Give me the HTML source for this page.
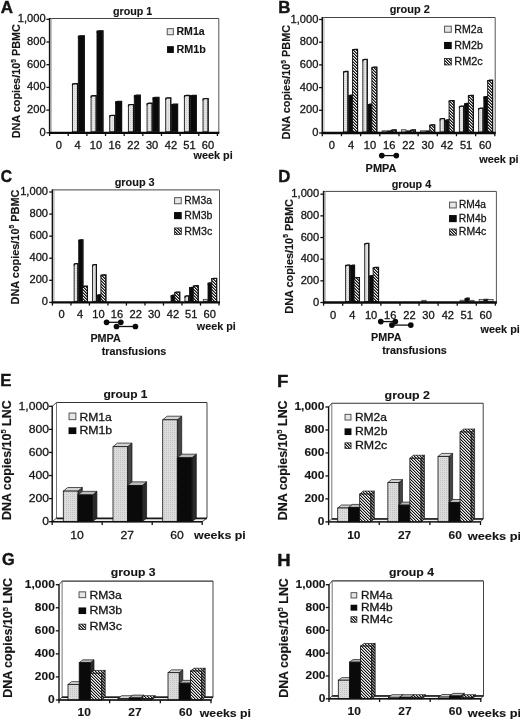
<!DOCTYPE html>
<html><head><meta charset="utf-8"><style>
html,body{margin:0;padding:0;background:#fff;}
body{width:520px;height:721px;overflow:hidden;font-family:"Liberation Sans", sans-serif;}
svg{display:block;filter:blur(0.5px);}
</style></head><body>
<svg width="520" height="721" viewBox="0 0 520 721" font-family='"Liberation Sans", sans-serif'>
<defs>
<pattern id="dots" width="2" height="2" patternUnits="userSpaceOnUse"><rect width="2" height="2" fill="#e6e6e6"/><rect width="1" height="1" fill="#cdcdcd"/></pattern>
<pattern id="dots3" width="2" height="2" patternUnits="userSpaceOnUse"><rect width="2" height="2" fill="#dcdcdc"/><rect width="1" height="1" fill="#c2c2c2"/></pattern>
<pattern id="hatch" width="3" height="3" patternUnits="userSpaceOnUse"><rect width="3" height="3" fill="#f4f4f4"/><rect x="0" y="0" width="1" height="1" fill="#111"/><rect x="1" y="0" width="1" height="1" fill="#777"/><rect x="1" y="1" width="1" height="1" fill="#111"/><rect x="2" y="1" width="1" height="1" fill="#777"/><rect x="0" y="2" width="1" height="1" fill="#777"/><rect x="2" y="2" width="1" height="1" fill="#111"/></pattern>
<pattern id="hatch3" width="3" height="3" patternUnits="userSpaceOnUse"><rect width="3" height="3" fill="#f4f4f4"/><rect x="0" y="0" width="1" height="1" fill="#111"/><rect x="1" y="0" width="1" height="1" fill="#a0a0a0"/><rect x="1" y="1" width="1" height="1" fill="#111"/><rect x="2" y="1" width="1" height="1" fill="#a0a0a0"/><rect x="0" y="2" width="1" height="1" fill="#a0a0a0"/><rect x="2" y="2" width="1" height="1" fill="#111"/></pattern>
<pattern id="hatchside" width="3" height="3" patternUnits="userSpaceOnUse"><rect width="3" height="3" fill="#999"/><rect x="0" y="0" width="1" height="1" fill="#111"/><rect x="1" y="0" width="1" height="1" fill="#555"/><rect x="1" y="1" width="1" height="1" fill="#111"/><rect x="2" y="1" width="1" height="1" fill="#555"/><rect x="0" y="2" width="1" height="1" fill="#555"/><rect x="2" y="2" width="1" height="1" fill="#111"/></pattern>
</defs>
<rect width="520" height="721" fill="#ffffff"/>
<line x1="49.60" y1="18.50" x2="218.80" y2="18.50" stroke="#444" stroke-width="1.0" />
<line x1="218.80" y1="18.50" x2="218.80" y2="132.80" stroke="#555" stroke-width="1.0" />
<line x1="51.30" y1="18.50" x2="51.30" y2="132.80" stroke="#aaa" stroke-width="0.9" />
<rect x="72.41" y="83.88" width="5.00" height="47.92" fill="url(#dots)" stroke="#151515" stroke-width="0.9" />
<path d="M72.26,85.68 Q72.46,83.58 74.16,83.58 L77.56,83.58 L77.56,131.80" fill="none" stroke="#111" stroke-width="1.1"/>
<rect x="78.31" y="35.98" width="5.90" height="95.82" fill="#0a0a0a" stroke="#151515" stroke-width="0.9" />
<path d="M78.16,37.78 Q78.36,35.68 80.06,35.68 L84.36,35.68 L84.36,131.80" fill="none" stroke="#111" stroke-width="1.1"/>
<rect x="91.07" y="95.91" width="5.00" height="35.89" fill="url(#dots)" stroke="#151515" stroke-width="0.9" />
<path d="M90.92,97.71 Q91.12,95.61 92.82,95.61 L96.22,95.61 L96.22,131.80" fill="none" stroke="#111" stroke-width="1.1"/>
<rect x="96.97" y="30.99" width="5.90" height="100.81" fill="#0a0a0a" stroke="#151515" stroke-width="0.9" />
<path d="M96.82,32.79 Q97.02,30.69 98.72,30.69 L103.02,30.69 L103.02,131.80" fill="none" stroke="#111" stroke-width="1.1"/>
<rect x="109.73" y="115.55" width="5.00" height="16.25" fill="url(#dots)" stroke="#151515" stroke-width="0.9" />
<path d="M109.58,117.35 Q109.78,115.25 111.48,115.25 L114.88,115.25 L114.88,131.80" fill="none" stroke="#111" stroke-width="1.1"/>
<rect x="115.63" y="101.59" width="5.90" height="30.21" fill="#0a0a0a" stroke="#151515" stroke-width="0.9" />
<path d="M115.48,103.39 Q115.68,101.29 117.38,101.29 L121.68,101.29 L121.68,131.80" fill="none" stroke="#111" stroke-width="1.1"/>
<rect x="128.39" y="104.77" width="5.00" height="27.03" fill="url(#dots)" stroke="#151515" stroke-width="0.9" />
<path d="M128.24,106.57 Q128.44,104.47 130.14,104.47 L133.54,104.47 L133.54,131.80" fill="none" stroke="#111" stroke-width="1.1"/>
<rect x="134.29" y="95.46" width="5.90" height="36.34" fill="#0a0a0a" stroke="#151515" stroke-width="0.9" />
<path d="M134.14,97.26 Q134.34,95.16 136.04,95.16 L140.34,95.16 L140.34,131.80" fill="none" stroke="#111" stroke-width="1.1"/>
<rect x="147.05" y="103.40" width="5.00" height="28.40" fill="url(#dots)" stroke="#151515" stroke-width="0.9" />
<path d="M146.90,105.20 Q147.10,103.10 148.80,103.10 L152.20,103.10 L152.20,131.80" fill="none" stroke="#111" stroke-width="1.1"/>
<rect x="152.95" y="97.62" width="5.90" height="34.19" fill="#0a0a0a" stroke="#151515" stroke-width="0.9" />
<path d="M152.80,99.42 Q153.00,97.32 154.70,97.32 L159.00,97.32 L159.00,131.80" fill="none" stroke="#111" stroke-width="1.1"/>
<rect x="165.71" y="98.07" width="5.00" height="33.73" fill="url(#dots)" stroke="#151515" stroke-width="0.9" />
<path d="M165.56,99.87 Q165.76,97.77 167.46,97.77 L170.86,97.77 L170.86,131.80" fill="none" stroke="#111" stroke-width="1.1"/>
<rect x="171.61" y="104.43" width="5.90" height="27.38" fill="#0a0a0a" stroke="#151515" stroke-width="0.9" />
<path d="M171.46,106.23 Q171.66,104.13 173.36,104.13 L177.66,104.13 L177.66,131.80" fill="none" stroke="#111" stroke-width="1.1"/>
<rect x="184.37" y="95.69" width="5.00" height="36.11" fill="url(#dots)" stroke="#151515" stroke-width="0.9" />
<path d="M184.22,97.49 Q184.42,95.39 186.12,95.39 L189.52,95.39 L189.52,131.80" fill="none" stroke="#111" stroke-width="1.1"/>
<rect x="190.27" y="95.69" width="5.90" height="36.11" fill="#0a0a0a" stroke="#151515" stroke-width="0.9" />
<path d="M190.12,97.49 Q190.32,95.39 192.02,95.39 L196.32,95.39 L196.32,131.80" fill="none" stroke="#111" stroke-width="1.1"/>
<rect x="203.03" y="98.75" width="5.00" height="33.05" fill="url(#dots)" stroke="#151515" stroke-width="0.9" />
<path d="M202.88,100.55 Q203.08,98.45 204.78,98.45 L208.18,98.45 L208.18,131.80" fill="none" stroke="#111" stroke-width="1.1"/>
<line x1="49.60" y1="18.00" x2="49.60" y2="133.80" stroke="#111" stroke-width="1.5" />
<line x1="49.10" y1="132.80" x2="219.30" y2="132.80" stroke="#0a0a0a" stroke-width="2.3" />
<line x1="46.40" y1="132.80" x2="49.60" y2="132.80" stroke="#111" stroke-width="1.3" />
<text x="39.42" y="135.89" font-size="10.30" font-weight="normal" text-anchor="start" fill="#151515" stroke="#151515" stroke-width="0.28" textLength="6.19" lengthAdjust="spacingAndGlyphs" >0</text>
<line x1="46.40" y1="110.10" x2="49.60" y2="110.10" stroke="#111" stroke-width="1.3" />
<text x="27.07" y="113.19" font-size="10.30" font-weight="normal" text-anchor="start" fill="#151515" stroke="#151515" stroke-width="0.28" textLength="18.56" lengthAdjust="spacingAndGlyphs" >200</text>
<line x1="46.40" y1="87.40" x2="49.60" y2="87.40" stroke="#111" stroke-width="1.3" />
<text x="27.07" y="90.49" font-size="10.30" font-weight="normal" text-anchor="start" fill="#151515" stroke="#151515" stroke-width="0.28" textLength="18.56" lengthAdjust="spacingAndGlyphs" >400</text>
<line x1="46.40" y1="64.70" x2="49.60" y2="64.70" stroke="#111" stroke-width="1.3" />
<text x="27.07" y="67.79" font-size="10.30" font-weight="normal" text-anchor="start" fill="#151515" stroke="#151515" stroke-width="0.28" textLength="18.56" lengthAdjust="spacingAndGlyphs" >600</text>
<line x1="46.40" y1="42.00" x2="49.60" y2="42.00" stroke="#111" stroke-width="1.3" />
<text x="27.07" y="45.09" font-size="10.30" font-weight="normal" text-anchor="start" fill="#151515" stroke="#151515" stroke-width="0.28" textLength="18.56" lengthAdjust="spacingAndGlyphs" >800</text>
<line x1="46.40" y1="19.30" x2="49.60" y2="19.30" stroke="#111" stroke-width="1.3" />
<text x="17.78" y="22.39" font-size="10.30" font-weight="normal" text-anchor="start" fill="#151515" stroke="#151515" stroke-width="0.28" textLength="27.84" lengthAdjust="spacingAndGlyphs" >1,000</text>
<line x1="49.60" y1="132.80" x2="49.60" y2="136.00" stroke="#111" stroke-width="1.3" />
<line x1="68.24" y1="132.80" x2="68.24" y2="136.00" stroke="#111" stroke-width="1.3" />
<line x1="86.89" y1="132.80" x2="86.89" y2="136.00" stroke="#111" stroke-width="1.3" />
<line x1="105.53" y1="132.80" x2="105.53" y2="136.00" stroke="#111" stroke-width="1.3" />
<line x1="124.18" y1="132.80" x2="124.18" y2="136.00" stroke="#111" stroke-width="1.3" />
<line x1="142.82" y1="132.80" x2="142.82" y2="136.00" stroke="#111" stroke-width="1.3" />
<line x1="161.47" y1="132.80" x2="161.47" y2="136.00" stroke="#111" stroke-width="1.3" />
<line x1="180.11" y1="132.80" x2="180.11" y2="136.00" stroke="#111" stroke-width="1.3" />
<line x1="198.76" y1="132.80" x2="198.76" y2="136.00" stroke="#111" stroke-width="1.3" />
<line x1="217.40" y1="132.80" x2="217.40" y2="136.00" stroke="#111" stroke-width="1.3" />
<text x="55.81" y="148.90" font-size="10.30" font-weight="normal" text-anchor="start" fill="#151515" stroke="#151515" stroke-width="0.28" textLength="6.19" lengthAdjust="spacingAndGlyphs" >0</text>
<text x="74.54" y="148.90" font-size="10.30" font-weight="normal" text-anchor="start" fill="#151515" stroke="#151515" stroke-width="0.28" textLength="6.19" lengthAdjust="spacingAndGlyphs" >4</text>
<text x="89.81" y="148.90" font-size="10.30" font-weight="normal" text-anchor="start" fill="#151515" stroke="#151515" stroke-width="0.28" textLength="12.37" lengthAdjust="spacingAndGlyphs" >10</text>
<text x="108.49" y="148.90" font-size="10.30" font-weight="normal" text-anchor="start" fill="#151515" stroke="#151515" stroke-width="0.28" textLength="12.37" lengthAdjust="spacingAndGlyphs" >16</text>
<text x="127.33" y="148.90" font-size="10.30" font-weight="normal" text-anchor="start" fill="#151515" stroke="#151515" stroke-width="0.28" textLength="12.37" lengthAdjust="spacingAndGlyphs" >22</text>
<text x="145.94" y="148.90" font-size="10.30" font-weight="normal" text-anchor="start" fill="#151515" stroke="#151515" stroke-width="0.28" textLength="12.37" lengthAdjust="spacingAndGlyphs" >30</text>
<text x="164.78" y="148.90" font-size="10.30" font-weight="normal" text-anchor="start" fill="#151515" stroke="#151515" stroke-width="0.28" textLength="12.37" lengthAdjust="spacingAndGlyphs" >42</text>
<text x="183.29" y="148.90" font-size="10.30" font-weight="normal" text-anchor="start" fill="#151515" stroke="#151515" stroke-width="0.28" textLength="12.37" lengthAdjust="spacingAndGlyphs" >51</text>
<text x="201.82" y="148.90" font-size="10.30" font-weight="normal" text-anchor="start" fill="#151515" stroke="#151515" stroke-width="0.28" textLength="12.37" lengthAdjust="spacingAndGlyphs" >60</text>
<text x="0.68" y="12.60" font-size="17.30" font-weight="bold" text-anchor="start" fill="#151515" stroke="#151515" stroke-width="0.45" textLength="12.23" lengthAdjust="spacingAndGlyphs" >A</text>
<text x="112.97" y="15.00" font-size="10.30" font-weight="bold" text-anchor="start" fill="#151515" stroke="#151515" stroke-width="0.12" textLength="39.31" lengthAdjust="spacingAndGlyphs" >group 1</text>
<rect x="167.25" y="28.65" width="6.10" height="6.10" fill="#e6e6e6" stroke="#555" stroke-width="1.0" />
<text x="176.52" y="35.20" font-size="10.90" font-weight="bold" text-anchor="start" fill="#151515" stroke="#151515" stroke-width="0.12" textLength="28.11" lengthAdjust="spacingAndGlyphs" >RM1a</text>
<rect x="167.05" y="46.15" width="6.80" height="6.80" fill="#0a0a0a" />
<text x="176.50" y="52.70" font-size="10.90" font-weight="bold" text-anchor="start" fill="#151515" stroke="#151515" stroke-width="0.12" textLength="29.36" lengthAdjust="spacingAndGlyphs" >RM1b</text>
<text x="20.00" y="138.30" font-size="10.8" font-weight="bold" fill="#151515" stroke="#151515" stroke-width="0.15" transform="rotate(-90 20.00 138.30)" textLength="114.20" lengthAdjust="spacingAndGlyphs">DNA copies/10<tspan font-size="6.7" dy="-4.3">5</tspan><tspan dy="4.3"> PBMC</tspan></text>
<text x="193.45" y="159.10" font-size="10.30" font-weight="bold" text-anchor="start" fill="#151515" stroke="#151515" stroke-width="0.12" textLength="39.28" lengthAdjust="spacingAndGlyphs" >week pi</text>
<line x1="322.30" y1="17.50" x2="495.20" y2="17.50" stroke="#444" stroke-width="1.0" />
<line x1="495.20" y1="17.50" x2="495.20" y2="133.00" stroke="#555" stroke-width="1.0" />
<line x1="324.00" y1="17.50" x2="324.00" y2="133.00" stroke="#aaa" stroke-width="0.9" />
<rect x="343.55" y="71.71" width="4.30" height="60.29" fill="url(#dots)" stroke="#151515" stroke-width="0.9" />
<path d="M343.40,73.51 Q343.60,71.41 345.30,71.41 L348.00,71.41 L348.00,132.00" fill="none" stroke="#111" stroke-width="1.1"/>
<rect x="348.75" y="95.43" width="3.50" height="36.57" fill="#0a0a0a" stroke="#151515" stroke-width="0.9" />
<path d="M348.60,97.23 Q348.80,95.13 350.50,95.13 L352.40,95.13 L352.40,132.00" fill="none" stroke="#111" stroke-width="1.1"/>
<rect x="352.55" y="49.58" width="4.90" height="82.42" fill="url(#hatch)" stroke="#151515" stroke-width="0.9" />
<path d="M352.40,51.38 Q352.60,49.28 354.30,49.28 L357.60,49.28 L357.60,132.00" fill="none" stroke="#111" stroke-width="1.1"/>
<rect x="362.85" y="59.57" width="4.30" height="72.43" fill="url(#dots)" stroke="#151515" stroke-width="0.9" />
<path d="M362.70,61.37 Q362.90,59.27 364.60,59.27 L367.30,59.27 L367.30,132.00" fill="none" stroke="#111" stroke-width="1.1"/>
<rect x="368.05" y="104.40" width="3.50" height="27.60" fill="#0a0a0a" stroke="#151515" stroke-width="0.9" />
<path d="M367.90,106.20 Q368.10,104.10 369.80,104.10 L371.70,104.10 L371.70,132.00" fill="none" stroke="#111" stroke-width="1.1"/>
<rect x="371.85" y="67.28" width="4.90" height="64.72" fill="url(#hatch)" stroke="#151515" stroke-width="0.9" />
<path d="M371.70,69.08 Q371.90,66.98 373.60,66.98 L376.90,66.98 L376.90,132.00" fill="none" stroke="#111" stroke-width="1.1"/>
<rect x="382.00" y="130.80" width="4.60" height="1.20" fill="#d0d0d0" stroke="#222" stroke-width="0.7" />
<rect x="387.20" y="130.80" width="3.80" height="1.20" fill="#111" stroke="#222" stroke-width="0.7" />
<rect x="391.15" y="130.16" width="4.90" height="1.84" fill="url(#hatch)" stroke="#151515" stroke-width="0.9" />
<path d="M391.00,131.96 Q391.20,129.86 392.90,129.86 L396.20,129.86 L396.20,132.00" fill="none" stroke="#111" stroke-width="1.1"/>
<rect x="401.30" y="129.73" width="4.60" height="2.27" fill="#d0d0d0" stroke="#222" stroke-width="0.7" />
<rect x="406.50" y="130.80" width="3.80" height="1.20" fill="#111" stroke="#222" stroke-width="0.7" />
<rect x="410.45" y="130.16" width="4.90" height="1.84" fill="url(#hatch)" stroke="#151515" stroke-width="0.9" />
<path d="M410.30,131.96 Q410.50,129.86 412.20,129.86 L415.50,129.86 L415.50,132.00" fill="none" stroke="#111" stroke-width="1.1"/>
<rect x="420.60" y="130.80" width="4.60" height="1.20" fill="#d0d0d0" stroke="#222" stroke-width="0.7" />
<rect x="425.80" y="130.80" width="3.80" height="1.20" fill="#111" stroke="#222" stroke-width="0.7" />
<rect x="429.75" y="125.06" width="4.90" height="6.94" fill="url(#hatch)" stroke="#151515" stroke-width="0.9" />
<path d="M429.60,126.86 Q429.80,124.76 431.50,124.76 L434.80,124.76 L434.80,132.00" fill="none" stroke="#111" stroke-width="1.1"/>
<rect x="440.05" y="118.81" width="4.30" height="13.19" fill="url(#dots)" stroke="#151515" stroke-width="0.9" />
<path d="M439.90,120.61 Q440.10,118.51 441.80,118.51 L444.50,118.51 L444.50,132.00" fill="none" stroke="#111" stroke-width="1.1"/>
<rect x="445.25" y="120.17" width="3.50" height="11.83" fill="#0a0a0a" stroke="#151515" stroke-width="0.9" />
<path d="M445.10,121.97 Q445.30,119.87 447.00,119.87 L448.90,119.87 L448.90,132.00" fill="none" stroke="#111" stroke-width="1.1"/>
<rect x="449.05" y="100.77" width="4.90" height="31.23" fill="url(#hatch)" stroke="#151515" stroke-width="0.9" />
<path d="M448.90,102.57 Q449.10,100.47 450.80,100.47 L454.10,100.47 L454.10,132.00" fill="none" stroke="#111" stroke-width="1.1"/>
<rect x="459.35" y="106.33" width="4.30" height="25.67" fill="url(#dots)" stroke="#151515" stroke-width="0.9" />
<path d="M459.20,108.13 Q459.40,106.03 461.10,106.03 L463.80,106.03 L463.80,132.00" fill="none" stroke="#111" stroke-width="1.1"/>
<rect x="464.55" y="103.72" width="3.50" height="28.28" fill="#0a0a0a" stroke="#151515" stroke-width="0.9" />
<path d="M464.40,105.52 Q464.60,103.42 466.30,103.42 L468.20,103.42 L468.20,132.00" fill="none" stroke="#111" stroke-width="1.1"/>
<rect x="468.35" y="95.55" width="4.90" height="36.45" fill="url(#hatch)" stroke="#151515" stroke-width="0.9" />
<path d="M468.20,97.34 Q468.40,95.25 470.10,95.25 L473.40,95.25 L473.40,132.00" fill="none" stroke="#111" stroke-width="1.1"/>
<rect x="478.65" y="108.37" width="4.30" height="23.63" fill="url(#dots)" stroke="#151515" stroke-width="0.9" />
<path d="M478.50,110.17 Q478.70,108.07 480.40,108.07 L483.10,108.07 L483.10,132.00" fill="none" stroke="#111" stroke-width="1.1"/>
<rect x="483.85" y="96.79" width="3.50" height="35.21" fill="#0a0a0a" stroke="#151515" stroke-width="0.9" />
<path d="M483.70,98.59 Q483.90,96.49 485.60,96.49 L487.50,96.49 L487.50,132.00" fill="none" stroke="#111" stroke-width="1.1"/>
<rect x="487.65" y="80.45" width="4.90" height="51.55" fill="url(#hatch)" stroke="#151515" stroke-width="0.9" />
<path d="M487.50,82.25 Q487.70,80.15 489.40,80.15 L492.70,80.15 L492.70,132.00" fill="none" stroke="#111" stroke-width="1.1"/>
<line x1="322.30" y1="17.00" x2="322.30" y2="134.00" stroke="#111" stroke-width="1.5" />
<line x1="321.80" y1="133.00" x2="495.70" y2="133.00" stroke="#0a0a0a" stroke-width="2.3" />
<line x1="319.10" y1="133.00" x2="322.30" y2="133.00" stroke="#111" stroke-width="1.3" />
<text x="312.22" y="136.09" font-size="10.30" font-weight="normal" text-anchor="start" fill="#151515" stroke="#151515" stroke-width="0.28" textLength="6.19" lengthAdjust="spacingAndGlyphs" >0</text>
<line x1="319.10" y1="110.30" x2="322.30" y2="110.30" stroke="#111" stroke-width="1.3" />
<text x="299.87" y="113.39" font-size="10.30" font-weight="normal" text-anchor="start" fill="#151515" stroke="#151515" stroke-width="0.28" textLength="18.56" lengthAdjust="spacingAndGlyphs" >200</text>
<line x1="319.10" y1="87.60" x2="322.30" y2="87.60" stroke="#111" stroke-width="1.3" />
<text x="299.87" y="90.69" font-size="10.30" font-weight="normal" text-anchor="start" fill="#151515" stroke="#151515" stroke-width="0.28" textLength="18.56" lengthAdjust="spacingAndGlyphs" >400</text>
<line x1="319.10" y1="64.90" x2="322.30" y2="64.90" stroke="#111" stroke-width="1.3" />
<text x="299.87" y="67.99" font-size="10.30" font-weight="normal" text-anchor="start" fill="#151515" stroke="#151515" stroke-width="0.28" textLength="18.56" lengthAdjust="spacingAndGlyphs" >600</text>
<line x1="319.10" y1="42.20" x2="322.30" y2="42.20" stroke="#111" stroke-width="1.3" />
<text x="299.87" y="45.29" font-size="10.30" font-weight="normal" text-anchor="start" fill="#151515" stroke="#151515" stroke-width="0.28" textLength="18.56" lengthAdjust="spacingAndGlyphs" >800</text>
<line x1="319.10" y1="19.50" x2="322.30" y2="19.50" stroke="#111" stroke-width="1.3" />
<text x="290.58" y="22.59" font-size="10.30" font-weight="normal" text-anchor="start" fill="#151515" stroke="#151515" stroke-width="0.28" textLength="27.84" lengthAdjust="spacingAndGlyphs" >1,000</text>
<line x1="322.30" y1="133.00" x2="322.30" y2="136.20" stroke="#111" stroke-width="1.3" />
<line x1="341.47" y1="133.00" x2="341.47" y2="136.20" stroke="#111" stroke-width="1.3" />
<line x1="360.63" y1="133.00" x2="360.63" y2="136.20" stroke="#111" stroke-width="1.3" />
<line x1="379.80" y1="133.00" x2="379.80" y2="136.20" stroke="#111" stroke-width="1.3" />
<line x1="398.97" y1="133.00" x2="398.97" y2="136.20" stroke="#111" stroke-width="1.3" />
<line x1="418.13" y1="133.00" x2="418.13" y2="136.20" stroke="#111" stroke-width="1.3" />
<line x1="437.30" y1="133.00" x2="437.30" y2="136.20" stroke="#111" stroke-width="1.3" />
<line x1="456.47" y1="133.00" x2="456.47" y2="136.20" stroke="#111" stroke-width="1.3" />
<line x1="475.63" y1="133.00" x2="475.63" y2="136.20" stroke="#111" stroke-width="1.3" />
<line x1="494.80" y1="133.00" x2="494.80" y2="136.20" stroke="#111" stroke-width="1.3" />
<text x="328.77" y="149.40" font-size="10.30" font-weight="normal" text-anchor="start" fill="#151515" stroke="#151515" stroke-width="0.28" textLength="6.19" lengthAdjust="spacingAndGlyphs" >0</text>
<text x="348.02" y="149.40" font-size="10.30" font-weight="normal" text-anchor="start" fill="#151515" stroke="#151515" stroke-width="0.28" textLength="6.19" lengthAdjust="spacingAndGlyphs" >4</text>
<text x="363.82" y="149.40" font-size="10.30" font-weight="normal" text-anchor="start" fill="#151515" stroke="#151515" stroke-width="0.28" textLength="12.37" lengthAdjust="spacingAndGlyphs" >10</text>
<text x="383.01" y="149.40" font-size="10.30" font-weight="normal" text-anchor="start" fill="#151515" stroke="#151515" stroke-width="0.28" textLength="12.37" lengthAdjust="spacingAndGlyphs" >16</text>
<text x="402.38" y="149.40" font-size="10.30" font-weight="normal" text-anchor="start" fill="#151515" stroke="#151515" stroke-width="0.28" textLength="12.37" lengthAdjust="spacingAndGlyphs" >22</text>
<text x="421.52" y="149.40" font-size="10.30" font-weight="normal" text-anchor="start" fill="#151515" stroke="#151515" stroke-width="0.28" textLength="12.37" lengthAdjust="spacingAndGlyphs" >30</text>
<text x="440.88" y="149.40" font-size="10.30" font-weight="normal" text-anchor="start" fill="#151515" stroke="#151515" stroke-width="0.28" textLength="12.37" lengthAdjust="spacingAndGlyphs" >42</text>
<text x="459.90" y="149.40" font-size="10.30" font-weight="normal" text-anchor="start" fill="#151515" stroke="#151515" stroke-width="0.28" textLength="12.37" lengthAdjust="spacingAndGlyphs" >51</text>
<text x="478.96" y="149.40" font-size="10.30" font-weight="normal" text-anchor="start" fill="#151515" stroke="#151515" stroke-width="0.28" textLength="12.37" lengthAdjust="spacingAndGlyphs" >60</text>
<text x="278.15" y="12.60" font-size="17.30" font-weight="bold" text-anchor="start" fill="#151515" stroke="#151515" stroke-width="0.45" textLength="12.19" lengthAdjust="spacingAndGlyphs" >B</text>
<text x="389.66" y="12.70" font-size="10.30" font-weight="bold" text-anchor="start" fill="#151515" stroke="#151515" stroke-width="0.12" textLength="40.09" lengthAdjust="spacingAndGlyphs" >group 2</text>
<rect x="444.55" y="26.15" width="6.70" height="6.10" fill="#e6e6e6" stroke="#555" stroke-width="1.0" />
<text x="454.36" y="32.50" font-size="10.70" font-weight="normal" text-anchor="start" fill="#151515" stroke="#151515" stroke-width="0.28" textLength="28.17" lengthAdjust="spacingAndGlyphs" >RM2a</text>
<rect x="444.05" y="41.95" width="7.70" height="7.10" fill="#0a0a0a" />
<text x="454.34" y="48.80" font-size="10.70" font-weight="normal" text-anchor="start" fill="#151515" stroke="#151515" stroke-width="0.28" textLength="28.61" lengthAdjust="spacingAndGlyphs" >RM2b</text>
<rect x="444.45" y="58.45" width="6.90" height="6.50" fill="url(#hatch)" stroke="#222" stroke-width="0.8" />
<text x="454.33" y="65.20" font-size="10.70" font-weight="normal" text-anchor="start" fill="#151515" stroke="#151515" stroke-width="0.28" textLength="28.46" lengthAdjust="spacingAndGlyphs" >RM2c</text>
<text x="290.00" y="139.40" font-size="10.8" font-weight="bold" fill="#151515" stroke="#151515" stroke-width="0.15" transform="rotate(-90 290.00 139.40)" textLength="114.50" lengthAdjust="spacingAndGlyphs">DNA copies/10<tspan font-size="6.7" dy="-4.3">5</tspan><tspan dy="4.3"> PBMC</tspan></text>
<text x="479.25" y="162.70" font-size="10.30" font-weight="bold" text-anchor="start" fill="#151515" stroke="#151515" stroke-width="0.12" textLength="39.38" lengthAdjust="spacingAndGlyphs" >week pi</text>
<line x1="381.80" y1="155.60" x2="396.30" y2="155.60" stroke="#111" stroke-width="1.3" />
<circle cx="381.80" cy="155.60" r="2.85" fill="#0a0a0a"/>
<circle cx="396.30" cy="155.60" r="2.85" fill="#0a0a0a"/>
<text x="365.59" y="171.70" font-size="10.20" font-weight="bold" text-anchor="start" fill="#151515" stroke="#151515" stroke-width="0.12" textLength="30.89" lengthAdjust="spacingAndGlyphs" >PMPA</text>
<line x1="52.40" y1="189.90" x2="219.50" y2="189.90" stroke="#444" stroke-width="1.0" />
<line x1="219.50" y1="189.90" x2="219.50" y2="302.40" stroke="#555" stroke-width="1.0" />
<line x1="54.10" y1="189.90" x2="54.10" y2="302.40" stroke="#aaa" stroke-width="0.9" />
<rect x="74.12" y="263.87" width="3.70" height="37.53" fill="url(#dots)" stroke="#151515" stroke-width="0.9" />
<path d="M73.97,265.67 Q74.17,263.57 75.87,263.57 L77.97,263.57 L77.97,301.40" fill="none" stroke="#111" stroke-width="1.1"/>
<rect x="78.72" y="240.02" width="4.10" height="61.38" fill="#0a0a0a" stroke="#151515" stroke-width="0.9" />
<path d="M78.57,241.82 Q78.77,239.72 80.47,239.72 L82.97,239.72 L82.97,301.40" fill="none" stroke="#111" stroke-width="1.1"/>
<rect x="82.42" y="286.39" width="4.90" height="15.01" fill="url(#hatch)" stroke="#151515" stroke-width="0.9" />
<path d="M82.27,288.19 Q82.47,286.09 84.17,286.09 L87.47,286.09 L87.47,301.40" fill="none" stroke="#111" stroke-width="1.1"/>
<rect x="92.59" y="264.86" width="3.70" height="36.54" fill="url(#dots)" stroke="#151515" stroke-width="0.9" />
<path d="M92.44,266.66 Q92.64,264.56 94.34,264.56 L96.44,264.56 L96.44,301.40" fill="none" stroke="#111" stroke-width="1.1"/>
<rect x="97.19" y="295.00" width="4.10" height="6.40" fill="#0a0a0a" stroke="#151515" stroke-width="0.9" />
<path d="M97.04,296.80 Q97.24,294.70 98.94,294.70 L101.44,294.70 L101.44,301.40" fill="none" stroke="#111" stroke-width="1.1"/>
<rect x="100.89" y="275.13" width="4.90" height="26.27" fill="url(#hatch)" stroke="#151515" stroke-width="0.9" />
<path d="M100.74,276.93 Q100.94,274.83 102.64,274.83 L105.94,274.83 L105.94,301.40" fill="none" stroke="#111" stroke-width="1.1"/>
<rect x="171.07" y="295.44" width="4.10" height="5.96" fill="#0a0a0a" stroke="#151515" stroke-width="0.9" />
<path d="M170.92,297.24 Q171.12,295.14 172.82,295.14 L175.32,295.14 L175.32,301.40" fill="none" stroke="#111" stroke-width="1.1"/>
<rect x="174.77" y="292.24" width="4.90" height="9.16" fill="url(#hatch)" stroke="#151515" stroke-width="0.9" />
<path d="M174.62,294.04 Q174.82,291.94 176.52,291.94 L179.82,291.94 L179.82,301.40" fill="none" stroke="#111" stroke-width="1.1"/>
<rect x="184.94" y="296.11" width="3.70" height="5.29" fill="url(#dots)" stroke="#151515" stroke-width="0.9" />
<path d="M184.79,297.91 Q184.99,295.81 186.69,295.81 L188.79,295.81 L188.79,301.40" fill="none" stroke="#111" stroke-width="1.1"/>
<rect x="189.54" y="287.61" width="4.10" height="13.79" fill="#0a0a0a" stroke="#151515" stroke-width="0.9" />
<path d="M189.39,289.41 Q189.59,287.31 191.29,287.31 L193.79,287.31 L193.79,301.40" fill="none" stroke="#111" stroke-width="1.1"/>
<rect x="193.24" y="285.95" width="4.90" height="15.45" fill="url(#hatch)" stroke="#151515" stroke-width="0.9" />
<path d="M193.09,287.75 Q193.29,285.65 194.99,285.65 L198.29,285.65 L198.29,301.40" fill="none" stroke="#111" stroke-width="1.1"/>
<rect x="203.26" y="299.30" width="4.00" height="2.10" fill="#d0d0d0" stroke="#222" stroke-width="0.7" />
<rect x="208.01" y="283.08" width="4.10" height="18.32" fill="#0a0a0a" stroke="#151515" stroke-width="0.9" />
<path d="M207.86,284.88 Q208.06,282.78 209.76,282.78 L212.26,282.78 L212.26,301.40" fill="none" stroke="#111" stroke-width="1.1"/>
<rect x="211.71" y="278.55" width="4.90" height="22.85" fill="url(#hatch)" stroke="#151515" stroke-width="0.9" />
<path d="M211.56,280.35 Q211.76,278.25 213.46,278.25 L216.76,278.25 L216.76,301.40" fill="none" stroke="#111" stroke-width="1.1"/>
<line x1="52.40" y1="189.40" x2="52.40" y2="303.40" stroke="#111" stroke-width="1.5" />
<line x1="51.90" y1="302.40" x2="220.00" y2="302.40" stroke="#0a0a0a" stroke-width="2.3" />
<line x1="49.20" y1="302.40" x2="52.40" y2="302.40" stroke="#111" stroke-width="1.3" />
<text x="41.82" y="305.49" font-size="10.30" font-weight="normal" text-anchor="start" fill="#151515" stroke="#151515" stroke-width="0.28" textLength="6.19" lengthAdjust="spacingAndGlyphs" >0</text>
<line x1="49.20" y1="280.32" x2="52.40" y2="280.32" stroke="#111" stroke-width="1.3" />
<text x="29.47" y="283.41" font-size="10.30" font-weight="normal" text-anchor="start" fill="#151515" stroke="#151515" stroke-width="0.28" textLength="18.56" lengthAdjust="spacingAndGlyphs" >200</text>
<line x1="49.20" y1="258.24" x2="52.40" y2="258.24" stroke="#111" stroke-width="1.3" />
<text x="29.47" y="261.33" font-size="10.30" font-weight="normal" text-anchor="start" fill="#151515" stroke="#151515" stroke-width="0.28" textLength="18.56" lengthAdjust="spacingAndGlyphs" >400</text>
<line x1="49.20" y1="236.16" x2="52.40" y2="236.16" stroke="#111" stroke-width="1.3" />
<text x="29.47" y="239.25" font-size="10.30" font-weight="normal" text-anchor="start" fill="#151515" stroke="#151515" stroke-width="0.28" textLength="18.56" lengthAdjust="spacingAndGlyphs" >600</text>
<line x1="49.20" y1="214.08" x2="52.40" y2="214.08" stroke="#111" stroke-width="1.3" />
<text x="29.47" y="217.17" font-size="10.30" font-weight="normal" text-anchor="start" fill="#151515" stroke="#151515" stroke-width="0.28" textLength="18.56" lengthAdjust="spacingAndGlyphs" >800</text>
<line x1="49.20" y1="192.00" x2="52.40" y2="192.00" stroke="#111" stroke-width="1.3" />
<text x="20.18" y="195.09" font-size="10.30" font-weight="normal" text-anchor="start" fill="#151515" stroke="#151515" stroke-width="0.28" textLength="27.84" lengthAdjust="spacingAndGlyphs" >1,000</text>
<line x1="52.40" y1="302.40" x2="52.40" y2="305.60" stroke="#111" stroke-width="1.3" />
<line x1="70.91" y1="302.40" x2="70.91" y2="305.60" stroke="#111" stroke-width="1.3" />
<line x1="89.42" y1="302.40" x2="89.42" y2="305.60" stroke="#111" stroke-width="1.3" />
<line x1="107.93" y1="302.40" x2="107.93" y2="305.60" stroke="#111" stroke-width="1.3" />
<line x1="126.44" y1="302.40" x2="126.44" y2="305.60" stroke="#111" stroke-width="1.3" />
<line x1="144.96" y1="302.40" x2="144.96" y2="305.60" stroke="#111" stroke-width="1.3" />
<line x1="163.47" y1="302.40" x2="163.47" y2="305.60" stroke="#111" stroke-width="1.3" />
<line x1="181.98" y1="302.40" x2="181.98" y2="305.60" stroke="#111" stroke-width="1.3" />
<line x1="200.49" y1="302.40" x2="200.49" y2="305.60" stroke="#111" stroke-width="1.3" />
<line x1="219.00" y1="302.40" x2="219.00" y2="305.60" stroke="#111" stroke-width="1.3" />
<text x="58.54" y="318.30" font-size="10.30" font-weight="normal" text-anchor="start" fill="#151515" stroke="#151515" stroke-width="0.28" textLength="6.19" lengthAdjust="spacingAndGlyphs" >0</text>
<text x="77.14" y="318.30" font-size="10.30" font-weight="normal" text-anchor="start" fill="#151515" stroke="#151515" stroke-width="0.28" textLength="6.19" lengthAdjust="spacingAndGlyphs" >4</text>
<text x="92.28" y="318.30" font-size="10.30" font-weight="normal" text-anchor="start" fill="#151515" stroke="#151515" stroke-width="0.28" textLength="12.37" lengthAdjust="spacingAndGlyphs" >10</text>
<text x="110.82" y="318.30" font-size="10.30" font-weight="normal" text-anchor="start" fill="#151515" stroke="#151515" stroke-width="0.28" textLength="12.37" lengthAdjust="spacingAndGlyphs" >16</text>
<text x="129.53" y="318.30" font-size="10.30" font-weight="normal" text-anchor="start" fill="#151515" stroke="#151515" stroke-width="0.28" textLength="12.37" lengthAdjust="spacingAndGlyphs" >22</text>
<text x="148.01" y="318.30" font-size="10.30" font-weight="normal" text-anchor="start" fill="#151515" stroke="#151515" stroke-width="0.28" textLength="12.37" lengthAdjust="spacingAndGlyphs" >30</text>
<text x="166.72" y="318.30" font-size="10.30" font-weight="normal" text-anchor="start" fill="#151515" stroke="#151515" stroke-width="0.28" textLength="12.37" lengthAdjust="spacingAndGlyphs" >42</text>
<text x="185.09" y="318.30" font-size="10.30" font-weight="normal" text-anchor="start" fill="#151515" stroke="#151515" stroke-width="0.28" textLength="12.37" lengthAdjust="spacingAndGlyphs" >51</text>
<text x="203.49" y="318.30" font-size="10.30" font-weight="normal" text-anchor="start" fill="#151515" stroke="#151515" stroke-width="0.28" textLength="12.37" lengthAdjust="spacingAndGlyphs" >60</text>
<text x="0.63" y="182.10" font-size="17.30" font-weight="bold" text-anchor="start" fill="#151515" stroke="#151515" stroke-width="0.45" textLength="11.25" lengthAdjust="spacingAndGlyphs" >C</text>
<text x="114.66" y="186.40" font-size="10.30" font-weight="bold" text-anchor="start" fill="#151515" stroke="#151515" stroke-width="0.12" textLength="40.04" lengthAdjust="spacingAndGlyphs" >group 3</text>
<rect x="174.55" y="197.65" width="6.70" height="6.10" fill="#e6e6e6" stroke="#555" stroke-width="1.0" />
<text x="184.37" y="203.70" font-size="10.70" font-weight="normal" text-anchor="start" fill="#151515" stroke="#151515" stroke-width="0.28" textLength="27.66" lengthAdjust="spacingAndGlyphs" >RM3a</text>
<rect x="174.05" y="212.05" width="7.70" height="7.10" fill="#0a0a0a" />
<text x="184.36" y="218.90" font-size="10.70" font-weight="normal" text-anchor="start" fill="#151515" stroke="#151515" stroke-width="0.28" textLength="28.09" lengthAdjust="spacingAndGlyphs" >RM3b</text>
<rect x="174.45" y="227.95" width="6.90" height="6.50" fill="url(#hatch)" stroke="#222" stroke-width="0.8" />
<text x="184.34" y="234.80" font-size="10.70" font-weight="normal" text-anchor="start" fill="#151515" stroke="#151515" stroke-width="0.28" textLength="27.94" lengthAdjust="spacingAndGlyphs" >RM3c</text>
<text x="18.60" y="304.40" font-size="10.8" font-weight="bold" fill="#151515" stroke="#151515" stroke-width="0.15" transform="rotate(-90 18.60 304.40)" textLength="114.80" lengthAdjust="spacingAndGlyphs">DNA copies/10<tspan font-size="6.7" dy="-4.3">5</tspan><tspan dy="4.3"> PBMC</tspan></text>
<text x="196.85" y="330.40" font-size="10.30" font-weight="bold" text-anchor="start" fill="#151515" stroke="#151515" stroke-width="0.12" textLength="38.98" lengthAdjust="spacingAndGlyphs" >week pi</text>
<line x1="106.60" y1="322.30" x2="120.80" y2="322.30" stroke="#111" stroke-width="1.3" />
<circle cx="106.60" cy="322.30" r="2.85" fill="#0a0a0a"/>
<circle cx="120.80" cy="322.30" r="2.85" fill="#0a0a0a"/>
<line x1="116.50" y1="326.50" x2="135.40" y2="326.50" stroke="#111" stroke-width="1.3" />
<circle cx="116.50" cy="326.50" r="2.85" fill="#0a0a0a"/>
<circle cx="135.40" cy="326.50" r="2.85" fill="#0a0a0a"/>
<text x="90.40" y="341.50" font-size="10.20" font-weight="bold" text-anchor="start" fill="#151515" stroke="#151515" stroke-width="0.12" textLength="30.37" lengthAdjust="spacingAndGlyphs" >PMPA</text>
<text x="101.69" y="354.80" font-size="10.30" font-weight="bold" text-anchor="start" fill="#151515" stroke="#151515" stroke-width="0.12" textLength="64.65" lengthAdjust="spacingAndGlyphs" >transfusions</text>
<line x1="323.60" y1="191.40" x2="496.40" y2="191.40" stroke="#444" stroke-width="1.0" />
<line x1="496.40" y1="191.40" x2="496.40" y2="302.50" stroke="#555" stroke-width="1.0" />
<line x1="325.30" y1="191.40" x2="325.30" y2="302.50" stroke="#aaa" stroke-width="0.9" />
<rect x="345.64" y="265.24" width="4.00" height="36.26" fill="url(#dots)" stroke="#151515" stroke-width="0.9" />
<path d="M345.49,267.04 Q345.69,264.94 347.39,264.94 L349.79,264.94 L349.79,301.50" fill="none" stroke="#111" stroke-width="1.1"/>
<rect x="350.54" y="265.46" width="3.90" height="36.04" fill="#0a0a0a" stroke="#151515" stroke-width="0.9" />
<path d="M350.39,267.26 Q350.59,265.16 352.29,265.16 L354.59,265.16 L354.59,301.50" fill="none" stroke="#111" stroke-width="1.1"/>
<rect x="354.04" y="277.81" width="5.30" height="23.69" fill="url(#hatch)" stroke="#151515" stroke-width="0.9" />
<path d="M353.89,279.61 Q354.09,277.51 355.79,277.51 L359.49,277.51 L359.49,301.50" fill="none" stroke="#111" stroke-width="1.1"/>
<rect x="364.73" y="243.58" width="4.00" height="57.92" fill="url(#dots)" stroke="#151515" stroke-width="0.9" />
<path d="M364.58,245.38 Q364.78,243.28 366.48,243.28 L368.88,243.28 L368.88,301.50" fill="none" stroke="#111" stroke-width="1.1"/>
<rect x="369.63" y="275.86" width="3.90" height="25.64" fill="#0a0a0a" stroke="#151515" stroke-width="0.9" />
<path d="M369.48,277.66 Q369.68,275.56 371.38,275.56 L373.68,275.56 L373.68,301.50" fill="none" stroke="#111" stroke-width="1.1"/>
<rect x="373.13" y="267.63" width="5.30" height="33.87" fill="url(#hatch)" stroke="#151515" stroke-width="0.9" />
<path d="M372.98,269.43 Q373.18,267.33 374.88,267.33 L378.58,267.33 L378.58,301.50" fill="none" stroke="#111" stroke-width="1.1"/>
<rect x="421.85" y="300.30" width="4.30" height="1.20" fill="#d0d0d0" stroke="#222" stroke-width="0.7" />
<rect x="460.03" y="300.20" width="4.30" height="1.30" fill="#d0d0d0" stroke="#222" stroke-width="0.7" />
<rect x="465.08" y="298.38" width="3.90" height="3.12" fill="#0a0a0a" stroke="#151515" stroke-width="0.9" />
<path d="M464.93,300.18 Q465.13,298.08 466.83,298.08 L469.13,298.08 L469.13,301.50" fill="none" stroke="#111" stroke-width="1.1"/>
<rect x="468.43" y="300.30" width="5.60" height="1.20" fill="#d0d0d0" stroke="#222" stroke-width="0.7" />
<rect x="479.12" y="299.33" width="4.30" height="2.17" fill="#d0d0d0" stroke="#222" stroke-width="0.7" />
<rect x="484.02" y="299.12" width="4.20" height="2.38" fill="#111" stroke="#222" stroke-width="0.7" />
<rect x="487.52" y="299.55" width="5.60" height="1.95" fill="#d0d0d0" stroke="#222" stroke-width="0.7" />
<line x1="323.60" y1="190.90" x2="323.60" y2="303.50" stroke="#111" stroke-width="1.5" />
<line x1="323.10" y1="302.50" x2="496.90" y2="302.50" stroke="#0a0a0a" stroke-width="2.3" />
<line x1="320.40" y1="302.50" x2="323.60" y2="302.50" stroke="#111" stroke-width="1.3" />
<text x="313.02" y="305.59" font-size="10.30" font-weight="normal" text-anchor="start" fill="#151515" stroke="#151515" stroke-width="0.28" textLength="6.19" lengthAdjust="spacingAndGlyphs" >0</text>
<line x1="320.40" y1="280.84" x2="323.60" y2="280.84" stroke="#111" stroke-width="1.3" />
<text x="300.67" y="283.93" font-size="10.30" font-weight="normal" text-anchor="start" fill="#151515" stroke="#151515" stroke-width="0.28" textLength="18.56" lengthAdjust="spacingAndGlyphs" >200</text>
<line x1="320.40" y1="259.18" x2="323.60" y2="259.18" stroke="#111" stroke-width="1.3" />
<text x="300.67" y="262.27" font-size="10.30" font-weight="normal" text-anchor="start" fill="#151515" stroke="#151515" stroke-width="0.28" textLength="18.56" lengthAdjust="spacingAndGlyphs" >400</text>
<line x1="320.40" y1="237.52" x2="323.60" y2="237.52" stroke="#111" stroke-width="1.3" />
<text x="300.67" y="240.61" font-size="10.30" font-weight="normal" text-anchor="start" fill="#151515" stroke="#151515" stroke-width="0.28" textLength="18.56" lengthAdjust="spacingAndGlyphs" >600</text>
<line x1="320.40" y1="215.86" x2="323.60" y2="215.86" stroke="#111" stroke-width="1.3" />
<text x="300.67" y="218.95" font-size="10.30" font-weight="normal" text-anchor="start" fill="#151515" stroke="#151515" stroke-width="0.28" textLength="18.56" lengthAdjust="spacingAndGlyphs" >800</text>
<line x1="320.40" y1="194.20" x2="323.60" y2="194.20" stroke="#111" stroke-width="1.3" />
<text x="291.38" y="197.29" font-size="10.30" font-weight="normal" text-anchor="start" fill="#151515" stroke="#151515" stroke-width="0.28" textLength="27.84" lengthAdjust="spacingAndGlyphs" >1,000</text>
<line x1="323.60" y1="302.50" x2="323.60" y2="305.70" stroke="#111" stroke-width="1.3" />
<line x1="342.69" y1="302.50" x2="342.69" y2="305.70" stroke="#111" stroke-width="1.3" />
<line x1="361.78" y1="302.50" x2="361.78" y2="305.70" stroke="#111" stroke-width="1.3" />
<line x1="380.87" y1="302.50" x2="380.87" y2="305.70" stroke="#111" stroke-width="1.3" />
<line x1="399.96" y1="302.50" x2="399.96" y2="305.70" stroke="#111" stroke-width="1.3" />
<line x1="419.04" y1="302.50" x2="419.04" y2="305.70" stroke="#111" stroke-width="1.3" />
<line x1="438.13" y1="302.50" x2="438.13" y2="305.70" stroke="#111" stroke-width="1.3" />
<line x1="457.22" y1="302.50" x2="457.22" y2="305.70" stroke="#111" stroke-width="1.3" />
<line x1="476.31" y1="302.50" x2="476.31" y2="305.70" stroke="#111" stroke-width="1.3" />
<line x1="495.40" y1="302.50" x2="495.40" y2="305.70" stroke="#111" stroke-width="1.3" />
<text x="330.03" y="318.60" font-size="10.30" font-weight="normal" text-anchor="start" fill="#151515" stroke="#151515" stroke-width="0.28" textLength="6.19" lengthAdjust="spacingAndGlyphs" >0</text>
<text x="349.20" y="318.60" font-size="10.30" font-weight="normal" text-anchor="start" fill="#151515" stroke="#151515" stroke-width="0.28" textLength="6.19" lengthAdjust="spacingAndGlyphs" >4</text>
<text x="364.93" y="318.60" font-size="10.30" font-weight="normal" text-anchor="start" fill="#151515" stroke="#151515" stroke-width="0.28" textLength="12.37" lengthAdjust="spacingAndGlyphs" >10</text>
<text x="384.04" y="318.60" font-size="10.30" font-weight="normal" text-anchor="start" fill="#151515" stroke="#151515" stroke-width="0.28" textLength="12.37" lengthAdjust="spacingAndGlyphs" >16</text>
<text x="403.33" y="318.60" font-size="10.30" font-weight="normal" text-anchor="start" fill="#151515" stroke="#151515" stroke-width="0.28" textLength="12.37" lengthAdjust="spacingAndGlyphs" >22</text>
<text x="422.39" y="318.60" font-size="10.30" font-weight="normal" text-anchor="start" fill="#151515" stroke="#151515" stroke-width="0.28" textLength="12.37" lengthAdjust="spacingAndGlyphs" >30</text>
<text x="441.67" y="318.60" font-size="10.30" font-weight="normal" text-anchor="start" fill="#151515" stroke="#151515" stroke-width="0.28" textLength="12.37" lengthAdjust="spacingAndGlyphs" >42</text>
<text x="460.62" y="318.60" font-size="10.30" font-weight="normal" text-anchor="start" fill="#151515" stroke="#151515" stroke-width="0.28" textLength="12.37" lengthAdjust="spacingAndGlyphs" >51</text>
<text x="479.60" y="318.60" font-size="10.30" font-weight="normal" text-anchor="start" fill="#151515" stroke="#151515" stroke-width="0.28" textLength="12.37" lengthAdjust="spacingAndGlyphs" >60</text>
<text x="278.16" y="182.10" font-size="17.30" font-weight="bold" text-anchor="start" fill="#151515" stroke="#151515" stroke-width="0.45" textLength="12.10" lengthAdjust="spacingAndGlyphs" >D</text>
<text x="391.67" y="188.20" font-size="10.30" font-weight="bold" text-anchor="start" fill="#151515" stroke="#151515" stroke-width="0.12" textLength="39.50" lengthAdjust="spacingAndGlyphs" >group 4</text>
<rect x="449.55" y="202.15" width="6.70" height="5.80" fill="#e6e6e6" stroke="#555" stroke-width="1.0" />
<text x="458.89" y="208.30" font-size="10.70" font-weight="normal" text-anchor="start" fill="#151515" stroke="#151515" stroke-width="0.28" textLength="27.14" lengthAdjust="spacingAndGlyphs" >RM4a</text>
<rect x="449.05" y="215.05" width="7.70" height="7.10" fill="#0a0a0a" />
<text x="458.87" y="222.00" font-size="10.70" font-weight="normal" text-anchor="start" fill="#151515" stroke="#151515" stroke-width="0.28" textLength="27.57" lengthAdjust="spacingAndGlyphs" >RM4b</text>
<rect x="449.45" y="228.95" width="6.90" height="6.20" fill="url(#hatch)" stroke="#222" stroke-width="0.8" />
<text x="458.86" y="235.40" font-size="10.70" font-weight="normal" text-anchor="start" fill="#151515" stroke="#151515" stroke-width="0.28" textLength="27.42" lengthAdjust="spacingAndGlyphs" >RM4c</text>
<text x="292.60" y="313.70" font-size="10.8" font-weight="bold" fill="#151515" stroke="#151515" stroke-width="0.15" transform="rotate(-90 292.60 313.70)" textLength="114.70" lengthAdjust="spacingAndGlyphs">DNA copies/10<tspan font-size="6.7" dy="-4.3">5</tspan><tspan dy="4.3"> PBMC</tspan></text>
<text x="480.55" y="333.00" font-size="10.30" font-weight="bold" text-anchor="start" fill="#151515" stroke="#151515" stroke-width="0.12" textLength="39.28" lengthAdjust="spacingAndGlyphs" >week pi</text>
<line x1="380.80" y1="321.60" x2="395.30" y2="321.60" stroke="#111" stroke-width="1.3" />
<circle cx="380.80" cy="321.60" r="2.85" fill="#0a0a0a"/>
<circle cx="395.30" cy="321.60" r="2.85" fill="#0a0a0a"/>
<line x1="391.90" y1="325.10" x2="410.80" y2="325.10" stroke="#111" stroke-width="1.3" />
<circle cx="391.90" cy="325.10" r="2.85" fill="#0a0a0a"/>
<circle cx="410.80" cy="325.10" r="2.85" fill="#0a0a0a"/>
<text x="371.10" y="340.80" font-size="10.20" font-weight="bold" text-anchor="start" fill="#151515" stroke="#151515" stroke-width="0.12" textLength="30.37" lengthAdjust="spacingAndGlyphs" >PMPA</text>
<text x="382.19" y="353.60" font-size="10.30" font-weight="bold" text-anchor="start" fill="#151515" stroke="#151515" stroke-width="0.12" textLength="64.65" lengthAdjust="spacingAndGlyphs" >transfusions</text>
<line x1="56.50" y1="402.50" x2="207.00" y2="402.50" stroke="#333" stroke-width="1.1" />
<line x1="207.00" y1="402.50" x2="207.00" y2="518.10" stroke="#444" stroke-width="1.0" />
<line x1="56.50" y1="402.50" x2="56.50" y2="518.10" stroke="#666" stroke-width="0.9" />
<line x1="52.20" y1="406.30" x2="56.50" y2="402.50" stroke="#333" stroke-width="0.9" />
<polygon points="52.20,521.70 56.50,518.10 207.00,518.10 202.20,521.70" fill="#f0f0f0" stroke="#222" stroke-width="0.8" stroke-linejoin="miter"/>
<line x1="56.50" y1="518.40" x2="207.00" y2="518.40" stroke="#1a1a1a" stroke-width="1.5" />
<polygon points="77.90,491.12 82.30,487.52 82.30,518.10 77.90,521.70" fill="#444" stroke="#111" stroke-width="0.7" stroke-linejoin="miter"/>
<polygon points="63.30,491.12 67.70,487.52 82.30,487.52 77.90,491.12" fill="#d4d4d4" stroke="#111" stroke-width="0.7" stroke-linejoin="miter"/>
<rect x="63.30" y="491.12" width="14.60" height="30.58" fill="url(#dots3)" stroke="#111" stroke-width="0.8" />
<polygon points="92.50,494.93 96.90,491.33 96.90,518.10 92.50,521.70" fill="#2a2a2a" stroke="#111" stroke-width="0.7" stroke-linejoin="miter"/>
<polygon points="77.90,494.93 82.30,491.33 96.90,491.33 92.50,494.93" fill="#bbbbbb" stroke="#111" stroke-width="0.7" stroke-linejoin="miter"/>
<rect x="77.90" y="494.93" width="14.60" height="26.77" fill="#0a0a0a" stroke="#111" stroke-width="0.8" />
<polygon points="127.60,446.69 132.00,443.09 132.00,518.10 127.60,521.70" fill="#444" stroke="#111" stroke-width="0.7" stroke-linejoin="miter"/>
<polygon points="113.00,446.69 117.40,443.09 132.00,443.09 127.60,446.69" fill="#d4d4d4" stroke="#111" stroke-width="0.7" stroke-linejoin="miter"/>
<rect x="113.00" y="446.69" width="14.60" height="75.01" fill="url(#dots3)" stroke="#111" stroke-width="0.8" />
<polygon points="142.20,485.46 146.60,481.86 146.60,518.10 142.20,521.70" fill="#2a2a2a" stroke="#111" stroke-width="0.7" stroke-linejoin="miter"/>
<polygon points="127.60,485.46 132.00,481.86 146.60,481.86 142.20,485.46" fill="#bbbbbb" stroke="#111" stroke-width="0.7" stroke-linejoin="miter"/>
<rect x="127.60" y="485.46" width="14.60" height="36.24" fill="#0a0a0a" stroke="#111" stroke-width="0.8" />
<polygon points="177.30,419.80 181.70,416.20 181.70,518.10 177.30,521.70" fill="#444" stroke="#111" stroke-width="0.7" stroke-linejoin="miter"/>
<polygon points="162.70,419.80 167.10,416.20 181.70,416.20 177.30,419.80" fill="#d4d4d4" stroke="#111" stroke-width="0.7" stroke-linejoin="miter"/>
<rect x="162.70" y="419.80" width="14.60" height="101.90" fill="url(#dots3)" stroke="#111" stroke-width="0.8" />
<polygon points="191.90,457.77 196.30,454.17 196.30,518.10 191.90,521.70" fill="#2a2a2a" stroke="#111" stroke-width="0.7" stroke-linejoin="miter"/>
<polygon points="177.30,457.77 181.70,454.17 196.30,454.17 191.90,457.77" fill="#bbbbbb" stroke="#111" stroke-width="0.7" stroke-linejoin="miter"/>
<rect x="177.30" y="457.77" width="14.60" height="63.93" fill="#0a0a0a" stroke="#111" stroke-width="0.8" />
<line x1="52.20" y1="405.80" x2="52.20" y2="522.20" stroke="#111" stroke-width="1.4" />
<line x1="51.70" y1="521.70" x2="202.70" y2="521.70" stroke="#111" stroke-width="1.4" />
<line x1="49.00" y1="521.70" x2="52.20" y2="521.70" stroke="#111" stroke-width="1.3" />
<text x="42.27" y="525.18" font-size="11.60" font-weight="normal" text-anchor="start" fill="#151515" stroke="#151515" stroke-width="0.28" textLength="6.77" lengthAdjust="spacingAndGlyphs" >0</text>
<line x1="49.00" y1="498.62" x2="52.20" y2="498.62" stroke="#111" stroke-width="1.3" />
<text x="28.75" y="502.10" font-size="11.60" font-weight="normal" text-anchor="start" fill="#151515" stroke="#151515" stroke-width="0.28" textLength="20.32" lengthAdjust="spacingAndGlyphs" >200</text>
<line x1="49.00" y1="475.54" x2="52.20" y2="475.54" stroke="#111" stroke-width="1.3" />
<text x="28.75" y="479.02" font-size="11.60" font-weight="normal" text-anchor="start" fill="#151515" stroke="#151515" stroke-width="0.28" textLength="20.32" lengthAdjust="spacingAndGlyphs" >400</text>
<line x1="49.00" y1="452.46" x2="52.20" y2="452.46" stroke="#111" stroke-width="1.3" />
<text x="28.75" y="455.94" font-size="11.60" font-weight="normal" text-anchor="start" fill="#151515" stroke="#151515" stroke-width="0.28" textLength="20.32" lengthAdjust="spacingAndGlyphs" >600</text>
<line x1="49.00" y1="429.38" x2="52.20" y2="429.38" stroke="#111" stroke-width="1.3" />
<text x="28.75" y="432.86" font-size="11.60" font-weight="normal" text-anchor="start" fill="#151515" stroke="#151515" stroke-width="0.28" textLength="20.32" lengthAdjust="spacingAndGlyphs" >800</text>
<line x1="49.00" y1="406.30" x2="52.20" y2="406.30" stroke="#111" stroke-width="1.3" />
<text x="18.58" y="409.78" font-size="11.60" font-weight="normal" text-anchor="start" fill="#151515" stroke="#151515" stroke-width="0.28" textLength="30.48" lengthAdjust="spacingAndGlyphs" >1,000</text>
<line x1="52.20" y1="521.70" x2="52.20" y2="524.90" stroke="#111" stroke-width="1.3" />
<line x1="102.20" y1="521.70" x2="102.20" y2="524.90" stroke="#111" stroke-width="1.3" />
<line x1="152.20" y1="521.70" x2="152.20" y2="524.90" stroke="#111" stroke-width="1.3" />
<line x1="202.20" y1="521.70" x2="202.20" y2="524.90" stroke="#111" stroke-width="1.3" />
<text x="70.20" y="538.70" font-size="11.60" font-weight="normal" text-anchor="start" fill="#151515" stroke="#151515" stroke-width="0.28" textLength="13.55" lengthAdjust="spacingAndGlyphs" >10</text>
<text x="120.44" y="538.70" font-size="11.60" font-weight="normal" text-anchor="start" fill="#151515" stroke="#151515" stroke-width="0.28" textLength="13.55" lengthAdjust="spacingAndGlyphs" >27</text>
<text x="170.35" y="538.70" font-size="11.60" font-weight="normal" text-anchor="start" fill="#151515" stroke="#151515" stroke-width="0.28" textLength="13.55" lengthAdjust="spacingAndGlyphs" >60</text>
<text x="0.31" y="385.60" font-size="17.30" font-weight="bold" text-anchor="start" fill="#151515" stroke="#151515" stroke-width="0.45" textLength="11.22" lengthAdjust="spacingAndGlyphs" >E</text>
<text x="103.52" y="397.70" font-size="10.60" font-weight="bold" text-anchor="start" fill="#151515" stroke="#151515" stroke-width="0.12" textLength="44.00" lengthAdjust="spacingAndGlyphs" >group 1</text>
<rect x="69.05" y="413.05" width="6.80" height="6.60" fill="#e6e6e6" stroke="#555" stroke-width="1.0" />
<text x="79.43" y="420.50" font-size="10.80" font-weight="normal" text-anchor="start" fill="#151515" stroke="#151515" stroke-width="0.28" textLength="32.30" lengthAdjust="spacingAndGlyphs" >RM1a</text>
<rect x="68.55" y="427.35" width="7.80" height="6.70" fill="#0a0a0a" />
<text x="79.42" y="434.20" font-size="10.80" font-weight="normal" text-anchor="start" fill="#151515" stroke="#151515" stroke-width="0.28" textLength="32.81" lengthAdjust="spacingAndGlyphs" >RM1b</text>
<text x="11.00" y="520.00" font-size="12.0" font-weight="bold" fill="#151515" stroke="#151515" stroke-width="0.15" transform="rotate(-90 11.00 520.00)" textLength="119.60" lengthAdjust="spacingAndGlyphs">DNA copies/10<tspan font-size="7.4" dy="-4.8">5</tspan><tspan dy="4.8"> LNC</tspan></text>
<text x="194.06" y="538.70" font-size="11.00" font-weight="bold" text-anchor="start" fill="#151515" stroke="#151515" stroke-width="0.12" textLength="51.69" lengthAdjust="spacingAndGlyphs" >weeks pi</text>
<line x1="331.80" y1="403.30" x2="483.20" y2="403.30" stroke="#333" stroke-width="1.1" />
<line x1="483.20" y1="403.30" x2="483.20" y2="518.70" stroke="#444" stroke-width="1.0" />
<line x1="331.80" y1="403.30" x2="331.80" y2="518.70" stroke="#666" stroke-width="0.9" />
<line x1="328.60" y1="407.00" x2="331.80" y2="403.30" stroke="#333" stroke-width="0.9" />
<polygon points="328.60,521.90 331.80,518.70 483.20,518.70 480.50,521.90" fill="#f0f0f0" stroke="#222" stroke-width="0.8" stroke-linejoin="miter"/>
<line x1="331.80" y1="519.00" x2="483.20" y2="519.00" stroke="#1a1a1a" stroke-width="1.5" />
<polygon points="348.70,508.00 352.30,505.00 352.30,518.90 348.70,521.90" fill="#444" stroke="#111" stroke-width="0.7" stroke-linejoin="miter"/>
<polygon points="337.70,508.00 341.30,505.00 352.30,505.00 348.70,508.00" fill="#d4d4d4" stroke="#111" stroke-width="0.7" stroke-linejoin="miter"/>
<rect x="337.70" y="508.00" width="11.00" height="13.90" fill="url(#dots3)" stroke="#111" stroke-width="0.8" />
<polygon points="359.70,507.42 363.30,504.42 363.30,518.90 359.70,521.90" fill="#2a2a2a" stroke="#111" stroke-width="0.7" stroke-linejoin="miter"/>
<polygon points="348.70,507.42 352.30,504.42 363.30,504.42 359.70,507.42" fill="#bbbbbb" stroke="#111" stroke-width="0.7" stroke-linejoin="miter"/>
<rect x="348.70" y="507.42" width="11.00" height="14.48" fill="#0a0a0a" stroke="#111" stroke-width="0.8" />
<polygon points="370.70,494.09 374.30,491.09 374.30,518.90 370.70,521.90" fill="url(#hatchside)" stroke="#111" stroke-width="0.7" stroke-linejoin="miter"/>
<polygon points="359.70,494.09 363.30,491.09 374.30,491.09 370.70,494.09" fill="url(#hatch3)" stroke="#111" stroke-width="0.7" stroke-linejoin="miter"/>
<rect x="359.70" y="494.09" width="11.00" height="27.81" fill="url(#hatch3)" stroke="#111" stroke-width="0.8" />
<polygon points="398.85,482.60 402.45,479.60 402.45,518.90 398.85,521.90" fill="#444" stroke="#111" stroke-width="0.7" stroke-linejoin="miter"/>
<polygon points="387.85,482.60 391.45,479.60 402.45,479.60 398.85,482.60" fill="#d4d4d4" stroke="#111" stroke-width="0.7" stroke-linejoin="miter"/>
<rect x="387.85" y="482.60" width="11.00" height="39.30" fill="url(#dots3)" stroke="#111" stroke-width="0.8" />
<polygon points="409.85,505.12 413.45,502.12 413.45,518.90 409.85,521.90" fill="#2a2a2a" stroke="#111" stroke-width="0.7" stroke-linejoin="miter"/>
<polygon points="398.85,505.12 402.45,502.12 413.45,502.12 409.85,505.12" fill="#bbbbbb" stroke="#111" stroke-width="0.7" stroke-linejoin="miter"/>
<rect x="398.85" y="505.12" width="11.00" height="16.78" fill="#0a0a0a" stroke="#111" stroke-width="0.8" />
<polygon points="420.85,458.25 424.45,455.25 424.45,518.90 420.85,521.90" fill="url(#hatchside)" stroke="#111" stroke-width="0.7" stroke-linejoin="miter"/>
<polygon points="409.85,458.25 413.45,455.25 424.45,455.25 420.85,458.25" fill="url(#hatch3)" stroke="#111" stroke-width="0.7" stroke-linejoin="miter"/>
<rect x="409.85" y="458.25" width="11.00" height="63.65" fill="url(#hatch3)" stroke="#111" stroke-width="0.8" />
<polygon points="449.00,456.41 452.60,453.41 452.60,518.90 449.00,521.90" fill="#444" stroke="#111" stroke-width="0.7" stroke-linejoin="miter"/>
<polygon points="438.00,456.41 441.60,453.41 452.60,453.41 449.00,456.41" fill="#d4d4d4" stroke="#111" stroke-width="0.7" stroke-linejoin="miter"/>
<rect x="438.00" y="456.41" width="11.00" height="65.49" fill="url(#dots3)" stroke="#111" stroke-width="0.8" />
<polygon points="460.00,502.48 463.60,499.48 463.60,518.90 460.00,521.90" fill="#2a2a2a" stroke="#111" stroke-width="0.7" stroke-linejoin="miter"/>
<polygon points="449.00,502.48 452.60,499.48 463.60,499.48 460.00,502.48" fill="#bbbbbb" stroke="#111" stroke-width="0.7" stroke-linejoin="miter"/>
<rect x="449.00" y="502.48" width="11.00" height="19.42" fill="#0a0a0a" stroke="#111" stroke-width="0.8" />
<polygon points="471.00,432.05 474.60,429.05 474.60,518.90 471.00,521.90" fill="url(#hatchside)" stroke="#111" stroke-width="0.7" stroke-linejoin="miter"/>
<polygon points="460.00,432.05 463.60,429.05 474.60,429.05 471.00,432.05" fill="url(#hatch3)" stroke="#111" stroke-width="0.7" stroke-linejoin="miter"/>
<rect x="460.00" y="432.05" width="11.00" height="89.85" fill="url(#hatch3)" stroke="#111" stroke-width="0.8" />
<line x1="328.60" y1="406.50" x2="328.60" y2="522.40" stroke="#111" stroke-width="1.4" />
<line x1="328.10" y1="521.90" x2="481.00" y2="521.90" stroke="#111" stroke-width="1.4" />
<line x1="325.40" y1="521.90" x2="328.60" y2="521.90" stroke="#111" stroke-width="1.3" />
<text x="317.74" y="525.32" font-size="11.40" font-weight="bold" text-anchor="start" fill="#151515" stroke="#151515" stroke-width="0.12" textLength="6.66" lengthAdjust="spacingAndGlyphs" >0</text>
<line x1="325.40" y1="498.92" x2="328.60" y2="498.92" stroke="#111" stroke-width="1.3" />
<text x="304.45" y="502.34" font-size="11.40" font-weight="bold" text-anchor="start" fill="#151515" stroke="#151515" stroke-width="0.12" textLength="19.97" lengthAdjust="spacingAndGlyphs" >200</text>
<line x1="325.40" y1="475.94" x2="328.60" y2="475.94" stroke="#111" stroke-width="1.3" />
<text x="304.45" y="479.36" font-size="11.40" font-weight="bold" text-anchor="start" fill="#151515" stroke="#151515" stroke-width="0.12" textLength="19.97" lengthAdjust="spacingAndGlyphs" >400</text>
<line x1="325.40" y1="452.96" x2="328.60" y2="452.96" stroke="#111" stroke-width="1.3" />
<text x="304.45" y="456.38" font-size="11.40" font-weight="bold" text-anchor="start" fill="#151515" stroke="#151515" stroke-width="0.12" textLength="19.97" lengthAdjust="spacingAndGlyphs" >600</text>
<line x1="325.40" y1="429.98" x2="328.60" y2="429.98" stroke="#111" stroke-width="1.3" />
<text x="304.45" y="433.40" font-size="11.40" font-weight="bold" text-anchor="start" fill="#151515" stroke="#151515" stroke-width="0.12" textLength="19.97" lengthAdjust="spacingAndGlyphs" >800</text>
<line x1="325.40" y1="407.00" x2="328.60" y2="407.00" stroke="#111" stroke-width="1.3" />
<text x="294.45" y="410.42" font-size="11.40" font-weight="bold" text-anchor="start" fill="#151515" stroke="#151515" stroke-width="0.12" textLength="29.95" lengthAdjust="spacingAndGlyphs" >1,000</text>
<line x1="328.60" y1="521.90" x2="328.60" y2="525.10" stroke="#111" stroke-width="1.3" />
<line x1="379.23" y1="521.90" x2="379.23" y2="525.10" stroke="#111" stroke-width="1.3" />
<line x1="429.87" y1="521.90" x2="429.87" y2="525.10" stroke="#111" stroke-width="1.3" />
<line x1="480.50" y1="521.90" x2="480.50" y2="525.10" stroke="#111" stroke-width="1.3" />
<text x="347.15" y="538.60" font-size="11.40" font-weight="bold" text-anchor="start" fill="#151515" stroke="#151515" stroke-width="0.12" textLength="13.31" lengthAdjust="spacingAndGlyphs" >10</text>
<text x="397.94" y="538.60" font-size="11.40" font-weight="bold" text-anchor="start" fill="#151515" stroke="#151515" stroke-width="0.12" textLength="13.31" lengthAdjust="spacingAndGlyphs" >27</text>
<text x="448.57" y="538.60" font-size="11.40" font-weight="bold" text-anchor="start" fill="#151515" stroke="#151515" stroke-width="0.12" textLength="13.31" lengthAdjust="spacingAndGlyphs" >60</text>
<text x="277.04" y="386.70" font-size="17.30" font-weight="bold" text-anchor="start" fill="#151515" stroke="#151515" stroke-width="0.45" textLength="11.38" lengthAdjust="spacingAndGlyphs" >F</text>
<text x="384.60" y="398.80" font-size="10.60" font-weight="bold" text-anchor="start" fill="#151515" stroke="#151515" stroke-width="0.12" textLength="45.41" lengthAdjust="spacingAndGlyphs" >group 2</text>
<rect x="345.05" y="414.35" width="5.90" height="5.70" fill="#e6e6e6" stroke="#555" stroke-width="1.0" />
<text x="354.94" y="420.70" font-size="10.80" font-weight="normal" text-anchor="start" fill="#151515" stroke="#151515" stroke-width="0.28" textLength="31.99" lengthAdjust="spacingAndGlyphs" >RM2a</text>
<rect x="344.55" y="428.35" width="6.90" height="6.70" fill="#0a0a0a" />
<text x="354.93" y="435.20" font-size="10.80" font-weight="normal" text-anchor="start" fill="#151515" stroke="#151515" stroke-width="0.28" textLength="32.49" lengthAdjust="spacingAndGlyphs" >RM2b</text>
<rect x="344.95" y="442.85" width="6.10" height="5.60" fill="url(#hatch)" stroke="#222" stroke-width="0.8" />
<text x="354.91" y="449.00" font-size="10.80" font-weight="normal" text-anchor="start" fill="#151515" stroke="#151515" stroke-width="0.28" textLength="32.32" lengthAdjust="spacingAndGlyphs" >RM2c</text>
<text x="286.60" y="520.20" font-size="12.0" font-weight="bold" fill="#151515" stroke="#151515" stroke-width="0.15" transform="rotate(-90 286.60 520.20)" textLength="119.80" lengthAdjust="spacingAndGlyphs">DNA copies/10<tspan font-size="7.4" dy="-4.8">5</tspan><tspan dy="4.8"> LNC</tspan></text>
<text x="467.76" y="540.30" font-size="11.00" font-weight="bold" text-anchor="start" fill="#151515" stroke="#151515" stroke-width="0.12" textLength="53.42" lengthAdjust="spacingAndGlyphs" >weeks pi</text>
<line x1="62.10" y1="581.10" x2="213.00" y2="581.10" stroke="#333" stroke-width="1.1" />
<line x1="213.00" y1="581.10" x2="213.00" y2="697.00" stroke="#444" stroke-width="1.0" />
<line x1="62.10" y1="581.10" x2="62.10" y2="697.00" stroke="#666" stroke-width="0.9" />
<line x1="59.00" y1="584.70" x2="62.10" y2="581.10" stroke="#333" stroke-width="0.9" />
<polygon points="59.00,700.00 62.10,697.00 213.00,697.00 211.00,700.00" fill="#f0f0f0" stroke="#222" stroke-width="0.8" stroke-linejoin="miter"/>
<line x1="62.10" y1="697.30" x2="213.00" y2="697.30" stroke="#1a1a1a" stroke-width="1.5" />
<polygon points="79.20,684.43 82.80,681.63 82.80,697.20 79.20,700.00" fill="#444" stroke="#111" stroke-width="0.7" stroke-linejoin="miter"/>
<polygon points="68.00,684.43 71.60,681.63 82.80,681.63 79.20,684.43" fill="#d4d4d4" stroke="#111" stroke-width="0.7" stroke-linejoin="miter"/>
<rect x="68.00" y="684.43" width="11.20" height="15.57" fill="url(#dots3)" stroke="#111" stroke-width="0.8" />
<polygon points="90.40,662.64 94.00,659.84 94.00,697.20 90.40,700.00" fill="#2a2a2a" stroke="#111" stroke-width="0.7" stroke-linejoin="miter"/>
<polygon points="79.20,662.64 82.80,659.84 94.00,659.84 90.40,662.64" fill="#bbbbbb" stroke="#111" stroke-width="0.7" stroke-linejoin="miter"/>
<rect x="79.20" y="662.64" width="11.20" height="37.36" fill="#0a0a0a" stroke="#111" stroke-width="0.8" />
<polygon points="101.60,673.25 105.20,670.45 105.20,697.20 101.60,700.00" fill="url(#hatchside)" stroke="#111" stroke-width="0.7" stroke-linejoin="miter"/>
<polygon points="90.40,673.25 94.00,670.45 105.20,670.45 101.60,673.25" fill="url(#hatch3)" stroke="#111" stroke-width="0.7" stroke-linejoin="miter"/>
<rect x="90.40" y="673.25" width="11.20" height="26.75" fill="url(#hatch3)" stroke="#111" stroke-width="0.8" />
<polygon points="129.20,698.50 132.80,695.70 132.80,697.20 129.20,700.00" fill="#444" stroke="#111" stroke-width="0.7" stroke-linejoin="miter"/>
<polygon points="118.00,698.50 121.60,695.70 132.80,695.70 129.20,698.50" fill="#d4d4d4" stroke="#111" stroke-width="0.7" stroke-linejoin="miter"/>
<rect x="118.00" y="698.50" width="11.20" height="1.50" fill="url(#dots3)" stroke="#111" stroke-width="0.8" />
<polygon points="140.40,697.92 144.00,695.12 144.00,697.20 140.40,700.00" fill="#2a2a2a" stroke="#111" stroke-width="0.7" stroke-linejoin="miter"/>
<polygon points="129.20,697.92 132.80,695.12 144.00,695.12 140.40,697.92" fill="#bbbbbb" stroke="#111" stroke-width="0.7" stroke-linejoin="miter"/>
<rect x="129.20" y="697.92" width="11.20" height="2.08" fill="#0a0a0a" stroke="#111" stroke-width="0.8" />
<polygon points="151.60,698.50 155.20,695.70 155.20,697.20 151.60,700.00" fill="url(#hatchside)" stroke="#111" stroke-width="0.7" stroke-linejoin="miter"/>
<polygon points="140.40,698.50 144.00,695.70 155.20,695.70 151.60,698.50" fill="url(#hatch3)" stroke="#111" stroke-width="0.7" stroke-linejoin="miter"/>
<rect x="140.40" y="698.50" width="11.20" height="1.50" fill="url(#hatch3)" stroke="#111" stroke-width="0.8" />
<polygon points="179.20,672.67 182.80,669.87 182.80,697.20 179.20,700.00" fill="#444" stroke="#111" stroke-width="0.7" stroke-linejoin="miter"/>
<polygon points="168.00,672.67 171.60,669.87 182.80,669.87 179.20,672.67" fill="#d4d4d4" stroke="#111" stroke-width="0.7" stroke-linejoin="miter"/>
<rect x="168.00" y="672.67" width="11.20" height="27.33" fill="url(#dots3)" stroke="#111" stroke-width="0.8" />
<polygon points="190.40,683.17 194.00,680.37 194.00,697.20 190.40,700.00" fill="#2a2a2a" stroke="#111" stroke-width="0.7" stroke-linejoin="miter"/>
<polygon points="179.20,683.17 182.80,680.37 194.00,680.37 190.40,683.17" fill="#bbbbbb" stroke="#111" stroke-width="0.7" stroke-linejoin="miter"/>
<rect x="179.20" y="683.17" width="11.20" height="16.83" fill="#0a0a0a" stroke="#111" stroke-width="0.8" />
<polygon points="201.60,671.06 205.20,668.26 205.20,697.20 201.60,700.00" fill="url(#hatchside)" stroke="#111" stroke-width="0.7" stroke-linejoin="miter"/>
<polygon points="190.40,671.06 194.00,668.26 205.20,668.26 201.60,671.06" fill="url(#hatch3)" stroke="#111" stroke-width="0.7" stroke-linejoin="miter"/>
<rect x="190.40" y="671.06" width="11.20" height="28.94" fill="url(#hatch3)" stroke="#111" stroke-width="0.8" />
<line x1="59.00" y1="584.20" x2="59.00" y2="700.50" stroke="#111" stroke-width="1.4" />
<line x1="58.50" y1="700.00" x2="211.50" y2="700.00" stroke="#111" stroke-width="1.4" />
<line x1="55.80" y1="700.00" x2="59.00" y2="700.00" stroke="#111" stroke-width="1.3" />
<text x="48.14" y="703.42" font-size="11.40" font-weight="bold" text-anchor="start" fill="#151515" stroke="#151515" stroke-width="0.12" textLength="6.66" lengthAdjust="spacingAndGlyphs" >0</text>
<line x1="55.80" y1="676.94" x2="59.00" y2="676.94" stroke="#111" stroke-width="1.3" />
<text x="34.85" y="680.36" font-size="11.40" font-weight="bold" text-anchor="start" fill="#151515" stroke="#151515" stroke-width="0.12" textLength="19.97" lengthAdjust="spacingAndGlyphs" >200</text>
<line x1="55.80" y1="653.88" x2="59.00" y2="653.88" stroke="#111" stroke-width="1.3" />
<text x="34.85" y="657.30" font-size="11.40" font-weight="bold" text-anchor="start" fill="#151515" stroke="#151515" stroke-width="0.12" textLength="19.97" lengthAdjust="spacingAndGlyphs" >400</text>
<line x1="55.80" y1="630.82" x2="59.00" y2="630.82" stroke="#111" stroke-width="1.3" />
<text x="34.85" y="634.24" font-size="11.40" font-weight="bold" text-anchor="start" fill="#151515" stroke="#151515" stroke-width="0.12" textLength="19.97" lengthAdjust="spacingAndGlyphs" >600</text>
<line x1="55.80" y1="607.76" x2="59.00" y2="607.76" stroke="#111" stroke-width="1.3" />
<text x="34.85" y="611.18" font-size="11.40" font-weight="bold" text-anchor="start" fill="#151515" stroke="#151515" stroke-width="0.12" textLength="19.97" lengthAdjust="spacingAndGlyphs" >800</text>
<line x1="55.80" y1="584.70" x2="59.00" y2="584.70" stroke="#111" stroke-width="1.3" />
<text x="24.85" y="588.12" font-size="11.40" font-weight="bold" text-anchor="start" fill="#151515" stroke="#151515" stroke-width="0.12" textLength="29.95" lengthAdjust="spacingAndGlyphs" >1,000</text>
<line x1="59.00" y1="700.00" x2="59.00" y2="703.20" stroke="#111" stroke-width="1.3" />
<line x1="109.67" y1="700.00" x2="109.67" y2="703.20" stroke="#111" stroke-width="1.3" />
<line x1="160.33" y1="700.00" x2="160.33" y2="703.20" stroke="#111" stroke-width="1.3" />
<line x1="211.00" y1="700.00" x2="211.00" y2="703.20" stroke="#111" stroke-width="1.3" />
<text x="77.57" y="715.90" font-size="11.40" font-weight="bold" text-anchor="start" fill="#151515" stroke="#151515" stroke-width="0.12" textLength="13.31" lengthAdjust="spacingAndGlyphs" >10</text>
<text x="128.39" y="715.90" font-size="11.40" font-weight="bold" text-anchor="start" fill="#151515" stroke="#151515" stroke-width="0.12" textLength="13.31" lengthAdjust="spacingAndGlyphs" >27</text>
<text x="179.05" y="715.90" font-size="11.40" font-weight="bold" text-anchor="start" fill="#151515" stroke="#151515" stroke-width="0.12" textLength="13.31" lengthAdjust="spacingAndGlyphs" >60</text>
<text x="2.10" y="564.90" font-size="17.30" font-weight="bold" text-anchor="start" fill="#151515" stroke="#151515" stroke-width="0.45" textLength="12.68" lengthAdjust="spacingAndGlyphs" >G</text>
<text x="110.81" y="576.40" font-size="10.60" font-weight="bold" text-anchor="start" fill="#151515" stroke="#151515" stroke-width="0.12" textLength="44.73" lengthAdjust="spacingAndGlyphs" >group 3</text>
<rect x="79.05" y="591.85" width="6.60" height="5.80" fill="#e6e6e6" stroke="#555" stroke-width="1.0" />
<text x="89.43" y="598.50" font-size="10.80" font-weight="normal" text-anchor="start" fill="#151515" stroke="#151515" stroke-width="0.28" textLength="32.30" lengthAdjust="spacingAndGlyphs" >RM3a</text>
<rect x="78.55" y="607.45" width="7.60" height="6.60" fill="#0a0a0a" />
<text x="89.42" y="614.20" font-size="10.80" font-weight="normal" text-anchor="start" fill="#151515" stroke="#151515" stroke-width="0.28" textLength="32.81" lengthAdjust="spacingAndGlyphs" >RM3b</text>
<rect x="78.95" y="624.15" width="6.80" height="5.40" fill="url(#hatch)" stroke="#222" stroke-width="0.8" />
<text x="89.40" y="630.10" font-size="10.80" font-weight="normal" text-anchor="start" fill="#151515" stroke="#151515" stroke-width="0.28" textLength="32.63" lengthAdjust="spacingAndGlyphs" >RM3c</text>
<text x="12.40" y="697.80" font-size="12.0" font-weight="bold" fill="#151515" stroke="#151515" stroke-width="0.15" transform="rotate(-90 12.40 697.80)" textLength="119.80" lengthAdjust="spacingAndGlyphs">DNA copies/10<tspan font-size="7.4" dy="-4.8">5</tspan><tspan dy="4.8"> LNC</tspan></text>
<text x="199.76" y="716.50" font-size="11.00" font-weight="bold" text-anchor="start" fill="#151515" stroke="#151515" stroke-width="0.12" textLength="51.19" lengthAdjust="spacingAndGlyphs" >weeks pi</text>
<line x1="332.20" y1="580.90" x2="483.50" y2="580.90" stroke="#333" stroke-width="1.1" />
<line x1="483.50" y1="580.90" x2="483.50" y2="695.80" stroke="#444" stroke-width="1.0" />
<line x1="332.20" y1="580.90" x2="332.20" y2="695.80" stroke="#666" stroke-width="0.9" />
<line x1="329.00" y1="584.70" x2="332.20" y2="580.90" stroke="#333" stroke-width="0.9" />
<polygon points="329.00,698.80 332.20,695.80 483.50,695.80 480.80,698.80" fill="#f0f0f0" stroke="#222" stroke-width="0.8" stroke-linejoin="miter"/>
<line x1="332.20" y1="696.10" x2="483.50" y2="696.10" stroke="#1a1a1a" stroke-width="1.5" />
<polygon points="349.40,680.20 353.00,677.60 353.00,696.20 349.40,698.80" fill="#444" stroke="#111" stroke-width="0.7" stroke-linejoin="miter"/>
<polygon points="338.30,680.20 341.90,677.60 353.00,677.60 349.40,680.20" fill="#d4d4d4" stroke="#111" stroke-width="0.7" stroke-linejoin="miter"/>
<rect x="338.30" y="680.20" width="11.10" height="18.60" fill="url(#dots3)" stroke="#111" stroke-width="0.8" />
<polygon points="360.50,662.17 364.10,659.57 364.10,696.20 360.50,698.80" fill="#2a2a2a" stroke="#111" stroke-width="0.7" stroke-linejoin="miter"/>
<polygon points="349.40,662.17 353.00,659.57 364.10,659.57 360.50,662.17" fill="#bbbbbb" stroke="#111" stroke-width="0.7" stroke-linejoin="miter"/>
<rect x="349.40" y="662.17" width="11.10" height="36.63" fill="#0a0a0a" stroke="#111" stroke-width="0.8" />
<polygon points="371.60,646.09 375.20,643.49 375.20,696.20 371.60,698.80" fill="url(#hatchside)" stroke="#111" stroke-width="0.7" stroke-linejoin="miter"/>
<polygon points="360.50,646.09 364.10,643.49 375.20,643.49 371.60,646.09" fill="url(#hatch3)" stroke="#111" stroke-width="0.7" stroke-linejoin="miter"/>
<rect x="360.50" y="646.09" width="11.10" height="52.71" fill="url(#hatch3)" stroke="#111" stroke-width="0.8" />
<polygon points="399.50,697.30 403.10,694.70 403.10,696.20 399.50,698.80" fill="#444" stroke="#111" stroke-width="0.7" stroke-linejoin="miter"/>
<polygon points="388.40,697.30 392.00,694.70 403.10,694.70 399.50,697.30" fill="#d4d4d4" stroke="#111" stroke-width="0.7" stroke-linejoin="miter"/>
<rect x="388.40" y="697.30" width="11.10" height="1.50" fill="url(#dots3)" stroke="#111" stroke-width="0.8" />
<polygon points="410.60,697.30 414.20,694.70 414.20,696.20 410.60,698.80" fill="#2a2a2a" stroke="#111" stroke-width="0.7" stroke-linejoin="miter"/>
<polygon points="399.50,697.30 403.10,694.70 414.20,694.70 410.60,697.30" fill="#bbbbbb" stroke="#111" stroke-width="0.7" stroke-linejoin="miter"/>
<rect x="399.50" y="697.30" width="11.10" height="1.50" fill="#0a0a0a" stroke="#111" stroke-width="0.8" />
<polygon points="421.70,697.30 425.30,694.70 425.30,696.20 421.70,698.80" fill="url(#hatchside)" stroke="#111" stroke-width="0.7" stroke-linejoin="miter"/>
<polygon points="410.60,697.30 414.20,694.70 425.30,694.70 421.70,697.30" fill="url(#hatch3)" stroke="#111" stroke-width="0.7" stroke-linejoin="miter"/>
<rect x="410.60" y="697.30" width="11.10" height="1.50" fill="url(#hatch3)" stroke="#111" stroke-width="0.8" />
<polygon points="449.60,697.09 453.20,694.49 453.20,696.20 449.60,698.80" fill="#444" stroke="#111" stroke-width="0.7" stroke-linejoin="miter"/>
<polygon points="438.50,697.09 442.10,694.49 453.20,694.49 449.60,697.09" fill="#d4d4d4" stroke="#111" stroke-width="0.7" stroke-linejoin="miter"/>
<rect x="438.50" y="697.09" width="11.10" height="1.71" fill="url(#dots3)" stroke="#111" stroke-width="0.8" />
<polygon points="460.70,695.95 464.30,693.35 464.30,696.20 460.70,698.80" fill="#2a2a2a" stroke="#111" stroke-width="0.7" stroke-linejoin="miter"/>
<polygon points="449.60,695.95 453.20,693.35 464.30,693.35 460.70,695.95" fill="#bbbbbb" stroke="#111" stroke-width="0.7" stroke-linejoin="miter"/>
<rect x="449.60" y="695.95" width="11.10" height="2.85" fill="#0a0a0a" stroke="#111" stroke-width="0.8" />
<polygon points="471.80,697.30 475.40,694.70 475.40,696.20 471.80,698.80" fill="url(#hatchside)" stroke="#111" stroke-width="0.7" stroke-linejoin="miter"/>
<polygon points="460.70,697.30 464.30,694.70 475.40,694.70 471.80,697.30" fill="url(#hatch3)" stroke="#111" stroke-width="0.7" stroke-linejoin="miter"/>
<rect x="460.70" y="697.30" width="11.10" height="1.50" fill="url(#hatch3)" stroke="#111" stroke-width="0.8" />
<line x1="329.00" y1="584.20" x2="329.00" y2="699.30" stroke="#111" stroke-width="1.4" />
<line x1="328.50" y1="698.80" x2="481.30" y2="698.80" stroke="#111" stroke-width="1.4" />
<line x1="325.80" y1="698.80" x2="329.00" y2="698.80" stroke="#111" stroke-width="1.3" />
<text x="318.84" y="702.22" font-size="11.40" font-weight="bold" text-anchor="start" fill="#151515" stroke="#151515" stroke-width="0.12" textLength="6.66" lengthAdjust="spacingAndGlyphs" >0</text>
<line x1="325.80" y1="675.98" x2="329.00" y2="675.98" stroke="#111" stroke-width="1.3" />
<text x="305.55" y="679.40" font-size="11.40" font-weight="bold" text-anchor="start" fill="#151515" stroke="#151515" stroke-width="0.12" textLength="19.97" lengthAdjust="spacingAndGlyphs" >200</text>
<line x1="325.80" y1="653.16" x2="329.00" y2="653.16" stroke="#111" stroke-width="1.3" />
<text x="305.55" y="656.58" font-size="11.40" font-weight="bold" text-anchor="start" fill="#151515" stroke="#151515" stroke-width="0.12" textLength="19.97" lengthAdjust="spacingAndGlyphs" >400</text>
<line x1="325.80" y1="630.34" x2="329.00" y2="630.34" stroke="#111" stroke-width="1.3" />
<text x="305.55" y="633.76" font-size="11.40" font-weight="bold" text-anchor="start" fill="#151515" stroke="#151515" stroke-width="0.12" textLength="19.97" lengthAdjust="spacingAndGlyphs" >600</text>
<line x1="325.80" y1="607.52" x2="329.00" y2="607.52" stroke="#111" stroke-width="1.3" />
<text x="305.55" y="610.94" font-size="11.40" font-weight="bold" text-anchor="start" fill="#151515" stroke="#151515" stroke-width="0.12" textLength="19.97" lengthAdjust="spacingAndGlyphs" >800</text>
<line x1="325.80" y1="584.70" x2="329.00" y2="584.70" stroke="#111" stroke-width="1.3" />
<text x="295.55" y="588.12" font-size="11.40" font-weight="bold" text-anchor="start" fill="#151515" stroke="#151515" stroke-width="0.12" textLength="29.95" lengthAdjust="spacingAndGlyphs" >1,000</text>
<line x1="329.00" y1="698.80" x2="329.00" y2="702.00" stroke="#111" stroke-width="1.3" />
<line x1="379.60" y1="698.80" x2="379.60" y2="702.00" stroke="#111" stroke-width="1.3" />
<line x1="430.20" y1="698.80" x2="430.20" y2="702.00" stroke="#111" stroke-width="1.3" />
<line x1="480.80" y1="698.80" x2="480.80" y2="702.00" stroke="#111" stroke-width="1.3" />
<text x="347.54" y="715.30" font-size="11.40" font-weight="bold" text-anchor="start" fill="#151515" stroke="#151515" stroke-width="0.12" textLength="13.31" lengthAdjust="spacingAndGlyphs" >10</text>
<text x="398.29" y="715.30" font-size="11.40" font-weight="bold" text-anchor="start" fill="#151515" stroke="#151515" stroke-width="0.12" textLength="13.31" lengthAdjust="spacingAndGlyphs" >27</text>
<text x="448.89" y="715.30" font-size="11.40" font-weight="bold" text-anchor="start" fill="#151515" stroke="#151515" stroke-width="0.12" textLength="13.31" lengthAdjust="spacingAndGlyphs" >60</text>
<text x="277.25" y="565.60" font-size="17.30" font-weight="bold" text-anchor="start" fill="#151515" stroke="#151515" stroke-width="0.45" textLength="13.34" lengthAdjust="spacingAndGlyphs" >H</text>
<text x="389.01" y="576.40" font-size="10.60" font-weight="bold" text-anchor="start" fill="#151515" stroke="#151515" stroke-width="0.12" textLength="44.97" lengthAdjust="spacingAndGlyphs" >group 4</text>
<rect x="351.05" y="592.65" width="5.70" height="5.30" fill="#e6e6e6" stroke="#555" stroke-width="1.0" />
<text x="360.96" y="598.90" font-size="10.20" font-weight="normal" text-anchor="start" fill="#151515" stroke="#151515" stroke-width="0.28" textLength="31.27" lengthAdjust="spacingAndGlyphs" >RM4a</text>
<rect x="350.55" y="604.75" width="6.70" height="5.90" fill="#0a0a0a" />
<text x="360.95" y="611.00" font-size="10.20" font-weight="normal" text-anchor="start" fill="#151515" stroke="#151515" stroke-width="0.28" textLength="31.76" lengthAdjust="spacingAndGlyphs" >RM4b</text>
<rect x="350.95" y="616.75" width="5.90" height="5.50" fill="url(#hatch)" stroke="#222" stroke-width="0.8" />
<text x="360.93" y="623.10" font-size="10.20" font-weight="normal" text-anchor="start" fill="#151515" stroke="#151515" stroke-width="0.28" textLength="31.59" lengthAdjust="spacingAndGlyphs" >RM4c</text>
<text x="287.70" y="697.80" font-size="12.0" font-weight="bold" fill="#151515" stroke="#151515" stroke-width="0.15" transform="rotate(-90 287.70 697.80)" textLength="119.60" lengthAdjust="spacingAndGlyphs">DNA copies/10<tspan font-size="7.4" dy="-4.8">5</tspan><tspan dy="4.8"> LNC</tspan></text>
<text x="467.76" y="716.50" font-size="11.00" font-weight="bold" text-anchor="start" fill="#151515" stroke="#151515" stroke-width="0.12" textLength="53.42" lengthAdjust="spacingAndGlyphs" >weeks pi</text>
</svg>
</body></html>
